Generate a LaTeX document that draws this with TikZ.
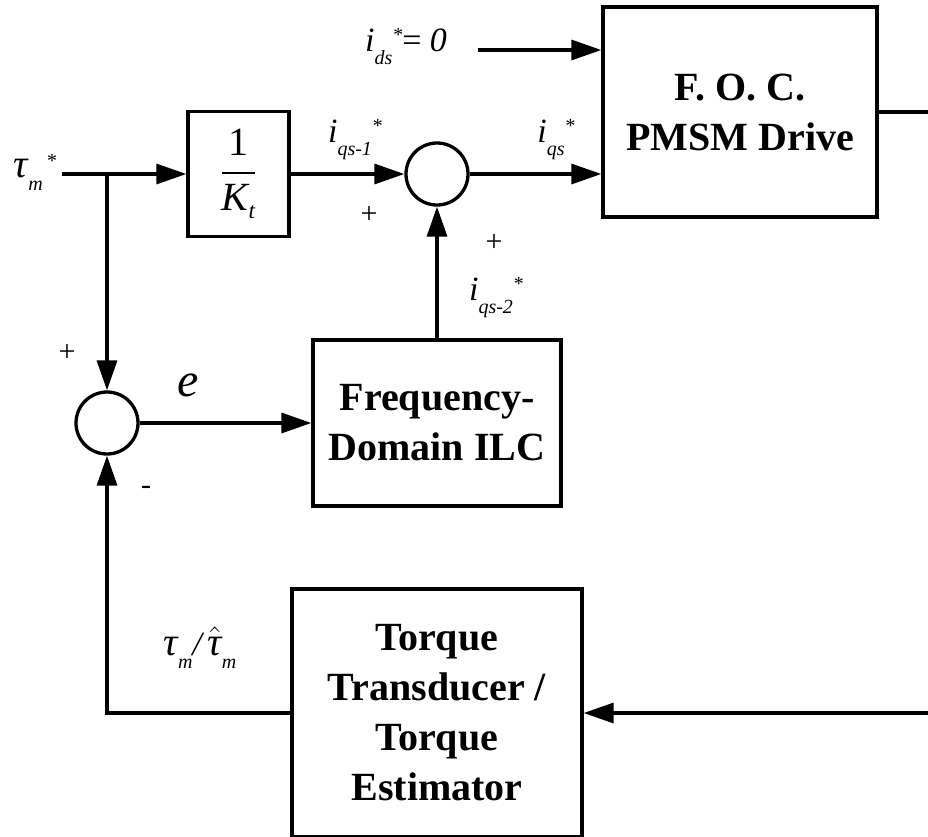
\RequirePackage{fix-cm}
\documentclass[tikz,border=0pt]{standalone}
\usepackage{amsmath}
\usepackage{fontspec}
\setmainfont{Liberation Serif}
\usetikzlibrary{arrows.meta}

% letter with subscript and star set one after the other
\newcommand{\sig}[3]{#1\raisebox{-13pt}{\fontsize{20}{20}\selectfont #2}\raisebox{10pt}{\fontsize{20}{20}\selectfont #3}}

\begin{document}
\begin{tikzpicture}[x=1pt, y=-1pt, line width=3.3pt,
  >={Triangle[length=30pt,width=20pt]},
  blk/.style={draw, line width=3.3pt, align=center, font=\fontsize{40}{50}\selectfont\bfseries},
  sumpt/.style={draw, circle, minimum size=62pt, inner sep=0pt},
  lbl/.style={font=\fontsize{34}{36}\selectfont\itshape, inner sep=0pt},
  sgn/.style={font=\fontsize{30}{30}\selectfont, inner sep=0pt}]
  \useasboundingbox (0,0) rectangle (928,836);

  % blocks
  \node[blk, minimum width=101pt, minimum height=125pt, font=\fontsize{40}{40}\selectfont] (kt) at (238.5,174)
    {$\genfrac{}{}{2.8pt}{0}{\mbox{1}}{\mbox{\itshape K\raisebox{-8pt}{\fontsize{23}{23}\selectfont t}}}$};
  \node[blk, minimum width=274pt, minimum height=210pt] (foc) at (740,112) {F. O. C.\\PMSM Drive};
  \node[blk, minimum width=248pt, minimum height=166pt] (ilc) at (437,423) {Frequency-\\Domain ILC};
  \node[blk, minimum width=290pt, minimum height=248pt] (tq) at (437,713) {Torque\\Transducer /\\Torque\\Estimator};
  \node[sumpt] (s1) at (437,174) {};
  \node[sumpt] (s2) at (107,423) {};

  % signals
  \node[lbl] (taum) at (35,172) {\sig{{\fontsize{40}{40}\selectfont τ}}{m}{\,*}};
  \node[lbl] (ids) at (406,47) {\sig{i}{ds}{*}{\upshape=} 0};
  \node[lbl] (iq1) at (355,140) {\sig{i}{qs-1}{*}};
  \node[lbl] (iq) at (556,140) {\sig{i}{qs}{*}};
  \node[lbl] (iq2) at (496,298) {\sig{i}{qs-2}{*}};
  \node[lbl, font=\fontsize{48}{48}\selectfont\itshape] (err) at (188,385) {e};
  \node[lbl] (tfb) at (200,648) {\sig{{\fontsize{40}{40}\selectfont τ}}{m}{}/\,\sig{{\fontsize{40}{40}\selectfont\ensuremath{\hat{\mbox{\itshape τ}}}}}{m}{}};
  \node[sgn] (p1) at (369,215) {+};
  \node[sgn] (p2) at (494,243) {+};
  \node[sgn] (p3) at (67,353) {+};
  \node[sgn] (m1) at (146,490) {-};

  \coordinate (tin) at (62,174);
  \coordinate (tap) at (107,174);
  \coordinate (idsin) at (478,50);
  \coordinate (focout) at (928,112);
  \coordinate (fbin) at (928,713);

  % connectors
  \draw[->] (tin) -- (kt.west);
  \draw[->] (tap) -- (s2.north);
  \draw[->] (kt.east) -- (s1.west);
  \draw[->] (s1.east) -- (s1.east -| foc.west);
  \draw[->] (idsin) -- (idsin -| foc.west);
  \draw[->] (ilc.north) -- (s1.south);
  \draw[->] (s2.east) -- (ilc.west);
  \draw (foc.east) -- (focout);
  \draw[->] (fbin) -- (tq.east);
  \draw[->] (tq.west) -| (s2.south);
\end{tikzpicture}
\end{document}
